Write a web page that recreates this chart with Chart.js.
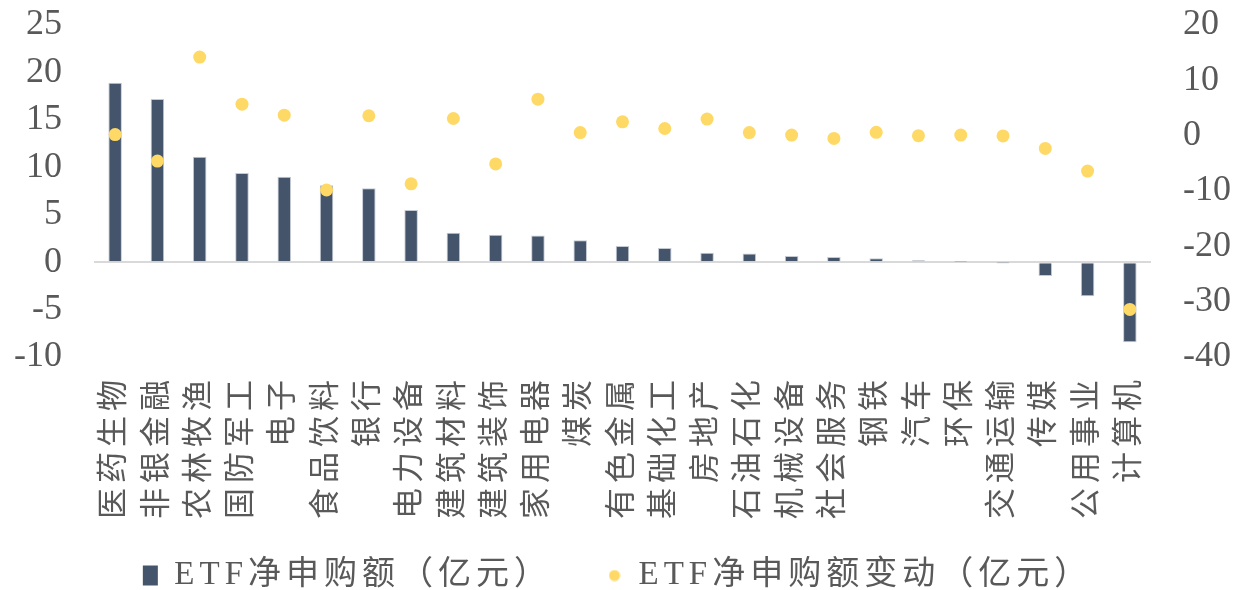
<!DOCTYPE html>
<html lang="zh">
<head>
  <meta charset="UTF-8" />
  <title>ETF净申购额</title>
  <script src="https://cdn.jsdelivr.net/npm/chart.js"></script>
  <style>
    html, body { margin: 0; padding: 0; background: #fff; }
    #wrap { width: 1235px; height: 590px; }
  </style>
</head>
<body>
  <div id="wrap"><canvas id="etfChart"></canvas></div>

  <script>
    // 行业分类
    const categories = ['医药生物', '非银金融', '农林牧渔', '国防军工', '电子', '食品饮料', '银行', '电力设备',
      '建筑材料', '建筑装饰', '家用电器', '煤炭', '有色金属', '基础化工', '房地产', '石油石化', '机械设备',
      '社会服务', '钢铁', '汽车', '环保', '交通运输', '传媒', '公用事业', '计算机'];
    // ETF净申购额（亿元），左轴
    const netBuy = [18.9, 17.2, 11.1, 9.4, 9.0, 8.1, 7.8, 5.5, 3.1, 2.9, 2.8, 2.3, 1.7, 1.5, 1.0, 0.9,
      0.65, 0.55, 0.4, 0.2, 0.02, -0.02, -1.45, -3.6, -8.45];
    // ETF净申购额变动（亿元），右轴
    const netBuyChange = [0.2, -4.6, 14.2, 5.7, 3.7, -9.8, 3.6, -8.7, 3.1, -5.1, 6.6, 0.55, 2.5, 1.3, 3.0,
      0.55, 0.1, -0.5, 0.6, 0.0, 0.1, -0.05, -2.3, -6.4, -31.4];
    // 坐标轴刻度
    const leftTicks = { min: -10, max: 25, step: 5 };
    const rightTicks = { min: -40, max: 20, step: 10 };

    const GREY = '#595959';
    const NAVY = '#44546A';
    const GOLD = '#FFD966';
    const numFont = { family: "'Liberation Serif', 'Times New Roman', serif", size: 36 };
    const cjkFont = { family: "'Liberation Serif', 'Noto Sans CJK SC', serif", size: 31 };
    const legendFont = { family: "'Liberation Serif', 'Noto Sans CJK SC', serif", size: 33 };

    // 图例里的小圆点
    const dotIcon = document.createElement('canvas');
    dotIcon.width = dotIcon.height = 12;
    const dctx = dotIcon.getContext('2d');
    dctx.fillStyle = GOLD;
    dctx.beginPath();
    dctx.arc(6, 6, 5.5, 0, Math.PI * 2);
    dctx.fill();

    // 中文标签加一点字距（横轴标签和图例），横轴标签不裁剪
    const spacedText = {
      id: 'spacedText',
      beforeLayout(chart) {
        [chart.scales.x, chart.legend].forEach(box => {
          if (!box || box._spaced) return;
          box._spaced = true;
          ['fit', 'draw'].forEach(name => {
            const orig = box[name];
            box[name] = function (...args) {
              const ctx = this.ctx;
              const prev = ctx.letterSpacing;
              ctx.letterSpacing = '5px';
              const r = orig.apply(this, args);
              ctx.letterSpacing = prev;
              return r;
            };
          });
        });
        if (chart.scales.x) chart.scales.x._computeLabelArea = () => undefined;
      }
    };

    // 纵轴宽度固定，去掉刻度文字带来的上下留白
    const fixY = width => s => {
      s.width = width;
      s.paddingTop = 0;
      s.paddingBottom = 0;
    };

    new Chart(document.getElementById('etfChart'), {
      data: {
        labels: categories,
        datasets: [
          {
            type: 'bar',
            label: 'ETF净申购额（亿元）',
            data: netBuy,
            yAxisID: 'y',
            backgroundColor: NAVY,
            borderColor: '#c4cad3',
            borderWidth: 1,
            barPercentage: 0.32,
            categoryPercentage: 1,
            pointStyle: 'rect',
            order: 2
          },
          {
            type: 'line',
            label: 'ETF净申购额变动（亿元）',
            data: netBuyChange,
            yAxisID: 'y1',
            showLine: false,
            pointRadius: 6.5,
            pointBackgroundColor: GOLD,
            pointBorderWidth: 0,
            backgroundColor: GOLD,
            borderColor: GOLD,
            order: 1
          }
        ]
      },
      options: {
        responsive: true,
        maintainAspectRatio: false,
        animation: false,
        layout: { padding: { top: 25, left: 0, right: 0, bottom: -12 } },
        plugins: {
          tooltip: { enabled: false },
          legend: {
            position: 'bottom',
            labels: {
              color: GREY,
              font: legendFont,
              usePointStyle: true,
              boxHeight: 20,
              pointStyleWidth: 15,
              padding: 55,
              sort: (a, b) => a.datasetIndex - b.datasetIndex,
              generateLabels(chart) {
                const items = Chart.defaults.plugins.legend.labels.generateLabels(chart);
                items.forEach(it => {
                  if (it.datasetIndex === 1) it.pointStyle = dotIcon;
                  it.lineWidth = 0;
                });
                return items;
              }
            }
          }
        },
        scales: {
          x: {
            grid: { display: false },
            border: { display: false },
            afterFit: s => { s.height = 147; },
            ticks: {
              color: GREY,
              font: cjkFont,
              minRotation: 90,
              maxRotation: 90,
              autoSkip: false,
              padding: 10
            }
          },
          y: {
            position: 'left',
            min: leftTicks.min,
            max: leftTicks.max,
            border: { display: false },
            afterFit: fixY(94),
            grid: {
              drawTicks: false,
              lineWidth: 2,
              color: ctx => ctx.tick && ctx.tick.value === 0 ? '#D9D9D9' : 'rgba(0,0,0,0)'
            },
            ticks: { stepSize: leftTicks.step, autoSkip: false, color: GREY, font: numFont, padding: 32 }
          },
          y1: {
            position: 'right',
            min: rightTicks.min,
            max: rightTicks.max,
            border: { display: false },
            afterFit: fixY(84),
            grid: { display: false, drawTicks: false },
            ticks: { stepSize: rightTicks.step, autoSkip: false, color: GREY, font: numFont, padding: 32 }
          }
        }
      },
      plugins: [spacedText]
    });
  </script>
</body>
</html>
